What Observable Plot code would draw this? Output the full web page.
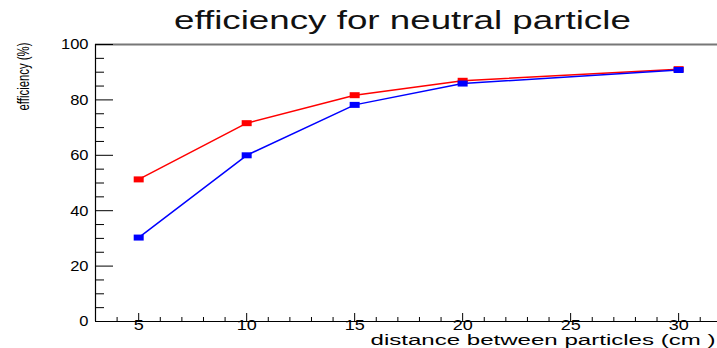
<!DOCTYPE html>
<html>
<head>
<meta charset="utf-8">
<script src="https://cdn.jsdelivr.net/npm/d3@7"></script>
<script src="https://cdn.jsdelivr.net/npm/@observablehq/plot@0.6"></script>
<style>
  body { margin: 0; background: #fff; width: 717px; height: 348px; overflow: hidden; }
  #title { height: 36px; line-height: 40px; text-align: center; font-family: "Liberation Sans", Arial, sans-serif; font-size: 25px; color: #111; white-space: nowrap; overflow: visible; }
  #title span { display: inline-block; transform: scaleX(1.47); transform-origin: center; position: relative; left: 44px; }
  svg { display: block; }
</style>
</head>
<body>
<div id="title"><span>efficiency for neutral particle</span></div>
<div id="chart"></div>
<script>
const distances = [5, 10, 15, 20, 30];
const effRed = [51.3, 71.6, 81.7, 86.9, 91.1];
const effBlue = [30.3, 60.0, 78.2, 85.9, 90.8];
const xTicks = [5, 10, 15, 20, 25, 30];
const yTicks = [0, 20, 40, 60, 80, 100];
const xLabel = "distance between particles (cm )";
const yLabel = "efficiency (%)";

const redData = distances.map((d, i) => ({x: d, y: effRed[i]}));
const blueData = distances.map((d, i) => ({x: d, y: effBlue[i]}));
const xMinor = d3.range(4, 32, 1).filter(v => !xTicks.includes(v));
const yMinor = d3.range(0, 101, 5).filter(v => !yTicks.includes(v));

const W = 717, H = 312, mL = 95, mR = 0, mT = 8, mB = 27;
const frameW = W - mL - mR, frameH = H - mT - mB;

const rectSymbol = {
  draw(ctx) {
    ctx.moveTo(-5, -3); ctx.lineTo(5, -3); ctx.lineTo(5, 3); ctx.lineTo(-5, 3); ctx.closePath();
  }
};

const font = "Liberation Sans, Arial, sans-serif";

const chart = Plot.plot({
  width: W, height: H,
  marginLeft: mL, marginRight: mR, marginTop: mT, marginBottom: mB,
  style: {fontFamily: font, background: "white", overflow: "visible"},
  x: {domain: [3, 31.8], axis: null},
  y: {domain: [0, 100], axis: null},
  marks: [
    Plot.ruleY([100], {stroke: "#777", strokeWidth: 2}),
    Plot.ruleY([0], {stroke: "#000", strokeWidth: 1.2}),
    Plot.ruleX([3], {stroke: "#000", strokeWidth: 1.2}),
    Plot.tickX(xTicks, {x: d => d, insetTop: frameH - 8, stroke: "#000", strokeWidth: 1}),
    Plot.tickX(xMinor, {x: d => d, insetTop: frameH - 4, stroke: "#000", strokeWidth: 1}),
    Plot.tickY(yTicks, {y: d => d, insetRight: frameW - 18, stroke: "#000", strokeWidth: 1}),
    Plot.tickY(yMinor, {y: d => d, insetRight: frameW - 9, stroke: "#000", strokeWidth: 1}),
    Plot.text(xTicks, {x: d => d, frameAnchor: "bottom", dy: 8, text: d => String(d), fontSize: 15, fill: "#000", className: "xtl"}),
    Plot.text(yTicks, {y: d => d, frameAnchor: "left", dx: -7, textAnchor: "end", text: d => String(d), fontSize: 15, fill: "#000", className: "ytl"}),
    Plot.text([xLabel], {frameAnchor: "bottom-left", dx: 275, dy: 23, textAnchor: "start", text: d => d, fontSize: 14, fill: "#000", className: "xlab"}),
    Plot.text([yLabel], {frameAnchor: "top-left", dx: -78, dy: -2, rotate: -90, textAnchor: "end", text: d => d, fontSize: 16, fill: "#000", className: "ylab"}),
    Plot.line(redData, {x: "x", y: "y", stroke: "red", strokeWidth: 1.5}),
    Plot.line(blueData, {x: "x", y: "y", stroke: "blue", strokeWidth: 1.5}),
    Plot.dot(redData, {x: "x", y: "y", symbol: rectSymbol, fill: "red", stroke: "none"}),
    Plot.dot(blueData, {x: "x", y: "y", symbol: rectSymbol, fill: "blue", stroke: "none"})
  ]
});
document.getElementById("chart").appendChild(chart);

function stretch(cls, factor, fixed) {
  d3.select(chart).selectAll(`.${cls} text, text.${cls}`).each(function() {
    const len = this.getComputedTextLength();
    d3.select(this).attr("textLength", fixed != null ? fixed : len * factor).attr("lengthAdjust", "spacingAndGlyphs");
  });
}
stretch("xtl", 1.2);
stretch("ytl", 1.1);
stretch("xlab", null, 345);
stretch("ylab", null, 68);
</script>
</body>
</html>
